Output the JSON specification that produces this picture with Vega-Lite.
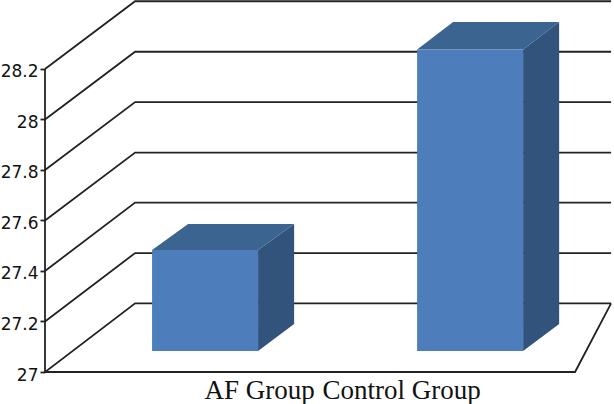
{"$schema":"https://vega.github.io/schema/vega-lite/v6.json","width":569,"height":372,"padding":{"left":45,"top":0,"right":0,"bottom":32},"autosize":"none","background":"white","config":{"view":{"stroke":null}},"layer":[{"mark":{"type":"line","stroke":"#222222","strokeWidth":1.8,"clip":false},"data":{"values":[{"line":"axis","o":1,"x":0.396,"y":27},{"line":"axis","o":2,"x":0.396,"y":28.2},{"line":"27","o":1,"x":2.532,"y":27.272},{"line":"27","o":2,"x":2.396,"y":27},{"line":"27","o":3,"x":0.396,"y":27},{"line":"27","o":4,"x":0.736,"y":27.272},{"line":"27","o":5,"x":2.532,"y":27.272},{"line":"27.2","o":1,"x":0.396,"y":27.2},{"line":"27.2","o":2,"x":0.736,"y":27.471},{"line":"27.2","o":3,"x":2.532,"y":27.471},{"line":"27.4","o":1,"x":0.396,"y":27.4},{"line":"27.4","o":2,"x":0.736,"y":27.671},{"line":"27.4","o":3,"x":2.532,"y":27.671},{"line":"27.6","o":1,"x":0.396,"y":27.6},{"line":"27.6","o":2,"x":0.736,"y":27.869},{"line":"27.6","o":3,"x":2.532,"y":27.869},{"line":"27.8","o":1,"x":0.396,"y":27.8},{"line":"27.8","o":2,"x":0.736,"y":28.069},{"line":"27.8","o":3,"x":2.532,"y":28.069},{"line":"28","o":1,"x":0.396,"y":28},{"line":"28","o":2,"x":0.736,"y":28.268},{"line":"28","o":3,"x":2.532,"y":28.268},{"line":"28.2","o":1,"x":0.396,"y":28.2},{"line":"28.2","o":2,"x":0.736,"y":28.468},{"line":"28.2","o":3,"x":2.532,"y":28.468}]},"encoding":{"x":{"field":"x","type":"quantitative","scale":{"domain":[0.396,2.543],"nice":false,"zero":false},"axis":{"values":[1.204,1.74],"labelExpr":"datum.value < 1.5 ? 'AF Group' : 'Control Group'","title":null,"grid":false,"domain":false,"ticks":false,"labelFont":"Liberation Serif","labelFontSize":27,"labelColor":"#111111","labelPadding":5,"labelFlush":false,"labelOverlap":false}},"y":{"field":"y","type":"quantitative","scale":{"domain":[27,28.473],"nice":false,"zero":false},"axis":{"values":[27,27.2,27.4,27.6,27.8,28,28.2],"format":"~g","title":null,"grid":false,"domain":false,"tickSize":5,"tickColor":"#222222","tickWidth":1.8,"labelFont":"DejaVu Sans","labelFontSize":17,"labelColor":"#111111","labelPadding":2,"labelOffset":3,"labelOverlap":false}},"detail":{"field":"line"},"order":{"field":"o"}}},{"mark":{"type":"area","clip":false,"opacity":1},"data":{"values":[{"id":"af-side","group":"AF Group","face":"side","x":1.2,"y":27.483,"y2":27.083},{"id":"af-side","group":"AF Group","face":"side","x":1.336,"y":27.586,"y2":27.19},{"id":"af-top","group":"AF Group","face":"top","x":0.8,"y":27.483,"y2":27.483},{"id":"af-top","group":"AF Group","face":"top","x":0.936,"y":27.586,"y2":27.483},{"id":"af-top","group":"AF Group","face":"top","x":1.2,"y":27.586,"y2":27.483},{"id":"af-top","group":"AF Group","face":"top","x":1.336,"y":27.586,"y2":27.586},{"id":"af-front","group":"AF Group","face":"front","x":0.8,"y":27.483,"y2":27.083},{"id":"af-front","group":"AF Group","face":"front","x":1.2,"y":27.483,"y2":27.083},{"id":"ctl-side","group":"Control Group","face":"side","x":2.2,"y":28.277,"y2":27.083},{"id":"ctl-side","group":"Control Group","face":"side","x":2.336,"y":28.386,"y2":27.19},{"id":"ctl-top","group":"Control Group","face":"top","x":1.8,"y":28.277,"y2":28.277},{"id":"ctl-top","group":"Control Group","face":"top","x":1.936,"y":28.386,"y2":28.277},{"id":"ctl-top","group":"Control Group","face":"top","x":2.2,"y":28.386,"y2":28.277},{"id":"ctl-top","group":"Control Group","face":"top","x":2.336,"y":28.386,"y2":28.386},{"id":"ctl-front","group":"Control Group","face":"front","x":1.8,"y":28.277,"y2":27.083},{"id":"ctl-front","group":"Control Group","face":"front","x":2.2,"y":28.277,"y2":27.083}]},"encoding":{"x":{"field":"x","type":"quantitative"},"y":{"field":"y","type":"quantitative"},"y2":{"field":"y2"},"detail":{"field":"id"},"color":{"field":"face","type":"nominal","legend":null,"scale":{"domain":["front","side","top"],"range":["#4d7ebb","#31537c","#3c6491"]}}}}]}
